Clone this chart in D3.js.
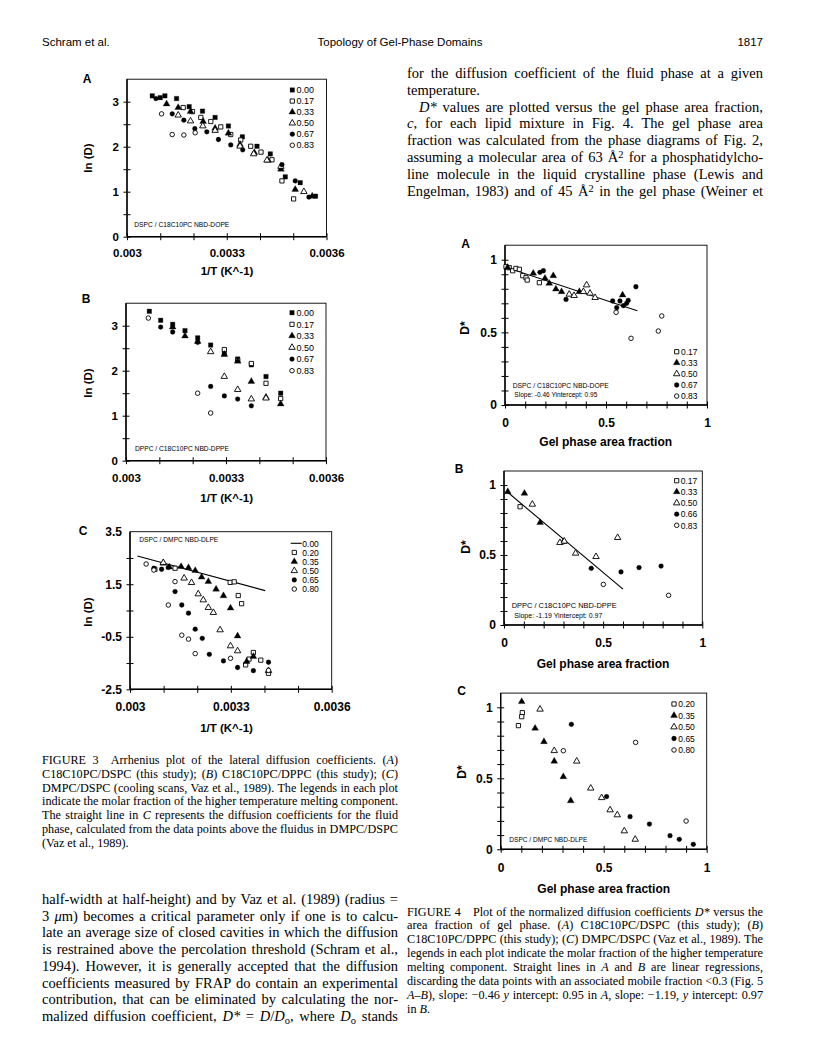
<!DOCTYPE html>
<meta charset="utf-8">
<html>
<head>
<script src="https://cdnjs.cloudflare.com/ajax/libs/d3/7.8.5/d3.min.js"></script>
<style>
  body { margin: 0; background: #fff; }
  svg { display: block; }
</style>
</head>
<body>
<div id="page"></div>
<script>

// ---------- data ----------

// Fig 3: ln(D) versus 1/T
var f3xLabels = ["0.003", "0.0033", "0.0036"];
var f3abYLabels = ["0", "1", "2", "3"];
var f3cYLabels = ["-2.5", "-0.5", "1.5", "3.5"];

var f3aKeys = ["0.00", "0.17", "0.33", "0.50", "0.67", "0.83"];
var f3a_000 = [[0.003076,3.13],[0.003100,3.09],[0.003114,3.13],[0.003149,3.07],[0.003187,2.89],[0.003227,2.79],[0.003265,2.65],[0.003305,2.46],[0.003347,2.22],[0.003391,2.01],[0.003431,1.84],[0.003476,1.33],[0.003521,1.20],[0.003567,0.90]];
var f3a_017 = [[0.003169,2.87],[0.003197,2.78],[0.003222,2.65],[0.003252,2.56],[0.003282,2.44],[0.003312,2.27],[0.003342,2.15],[0.003372,2.01],[0.003403,1.88],[0.003436,1.71],[0.003466,1.24],[0.003501,0.84]];
var f3a_033 = [[0.003119,2.95],[0.003154,2.87],[0.003191,2.78],[0.003229,2.56],[0.003265,2.41],[0.003305,2.30],[0.003340,2.05],[0.003383,1.87],[0.003424,1.70],[0.003463,1.50],[0.003506,1.05],[0.003557,0.90]];
var f3a_050 = [[0.003154,2.70],[0.003191,2.57],[0.003228,2.46],[0.003265,2.36],[0.003340,2.01],[0.003381,1.84],[0.003421,1.70],[0.003463,1.56],[0.003532,1.00]];
var f3a_067 = [[0.003087,3.07],[0.003136,2.73],[0.003171,2.59],[0.003204,2.40],[0.003240,2.33],[0.003275,2.16],[0.003312,2.04],[0.003348,1.93],[0.003466,1.60],[0.003506,1.24],[0.003547,0.88]];
var f3a_083 = [[0.003104,2.73],[0.003136,2.27],[0.003171,2.26],[0.003205,2.31]];

var f3bKeys = ["0.00", "0.17", "0.33", "0.50", "0.67", "0.83"];
var f3b_000 = [[0.003070,3.32],[0.003104,3.12],[0.003140,3.03],[0.003177,2.89],[0.003215,2.73],[0.003254,2.57],[0.003295,2.38],[0.003335,2.26],[0.003376,2.13],[0.003420,1.87],[0.003464,1.50]];
var f3b_017 = [[0.003295,2.47],[0.003335,2.23],[0.003376,2.16],[0.003420,1.72],[0.003464,1.38]];
var f3b_033 = [[0.003140,2.97],[0.003177,2.77],[0.003215,2.65],[0.003295,2.36],[0.003335,2.21],[0.003376,1.76],[0.003420,1.41],[0.003464,1.26]];
var f3b_050 = [[0.003254,2.42],[0.003295,1.87],[0.003335,1.58],[0.003376,1.37],[0.003420,1.39]];
var f3b_067 = [[0.003104,2.97],[0.003140,2.86],[0.003215,2.63],[0.003254,1.65],[0.003295,1.44],[0.003335,1.37],[0.003376,1.22]];
var f3b_083 = [[0.003067,3.17],[0.003215,1.50],[0.003254,1.06]];

var f3cKeys = ["0.00", "0.20", "0.35", "0.50", "0.65", "0.80"];
var f3cFluid = [[0.003022,2.575],[0.003402,1.257]];
var f3c_020 = [[0.003074,2.07],[0.003134,2.11],[0.003298,1.57],[0.003310,1.59],[0.003322,1.07],[0.003332,0.76],[0.003344,-1.57],[0.003354,-1.35],[0.003367,-1.10],[0.003389,-1.39],[0.003412,-1.89]];
var f3c_035 = [[0.003099,2.30],[0.003117,2.15],[0.003152,2.17],[0.003174,2.13],[0.003194,2.02],[0.003213,1.77],[0.003233,1.60],[0.003256,1.31],[0.003278,1.06],[0.003299,0.59],[0.003320,-0.47],[0.003347,-1.44],[0.003367,-1.25]];
var f3c_050 = [[0.003099,2.32],[0.003161,1.73],[0.003183,1.56],[0.003203,1.13],[0.003218,0.90],[0.003233,0.61],[0.003248,0.42],[0.003268,-0.24],[0.003299,-0.85],[0.003320,-1.04],[0.003412,-1.79]];
var f3c_065 = [[0.003071,2.11],[0.003094,2.07],[0.003114,2.14],[0.003134,1.22],[0.003154,0.71],[0.003174,0.40],[0.003194,-0.21],[0.003215,-0.56],[0.003236,-1.17],[0.003278,-1.42],[0.003320,-1.67],[0.003367,-1.79],[0.003412,-1.47]];
var f3c_080 = [[0.003048,2.27],[0.003071,2.04],[0.003134,1.60],[0.003114,0.71],[0.003154,-0.44],[0.003174,-0.59],[0.003194,-1.14],[0.003299,-1.32],[0.003412,-1.78]];

// Fig 4: D* versus gel phase area fraction
var f4xLabels = ["0", "0.5", "1"];
var f4yLabels = ["0", "0.5", "1"];

var f4aKeys = ["0.17", "0.33", "0.50", "0.67", "0.83"];
var f4a_017 = [[0.005,0.952],[0.021,0.945],[0.038,0.924],[0.054,0.940],[0.071,0.934],[0.088,0.890],[0.104,0.876],[0.110,0.860],[0.170,0.842]];
var f4a_033 = [[0.013,0.947],[0.140,0.906],[0.198,0.872],[0.219,0.837],[0.239,0.890],[0.252,0.798],[0.280,0.780],[0.368,0.780],[0.582,0.757]];
var f4a_050 = [[0.318,0.762],[0.342,0.753],[0.388,0.780],[0.404,0.826],[0.421,0.769],[0.446,0.739]];
var f4a_067 = [[0.173,0.913],[0.190,0.924],[0.302,0.727],[0.533,0.716],[0.553,0.670],[0.569,0.716],[0.586,0.684],[0.602,0.700],[0.610,0.720],[0.648,0.814]];
var f4a_083 = [[0.550,0.638],[0.624,0.459],[0.759,0.509],[0.776,0.613]];
var f4aFit = { slope: -0.46, intercept: 0.95, from: 0.0, to: 0.655 };

var f4bKeys = ["0.17", "0.33", "0.50", "0.66", "0.83"];
var f4b_017 = [[0.081,0.845]];
var f4b_033 = [[0.019,0.952],[0.103,0.940],[0.182,0.731],[0.299,0.595]];
var f4b_050 = [[0.143,0.862],[0.282,0.588],[0.304,0.598],[0.361,0.512],[0.464,0.488],[0.573,0.624]];
var f4b_066 = [[0.440,0.405],[0.590,0.379],[0.681,0.410],[0.792,0.421]];
var f4b_083 = [[0.501,0.290],[0.830,0.212]];
var f4bFit = { slope: -1.19, intercept: 0.97, from: 0.01, to: 0.60 };

var f4cKeys = ["0.20", "0.35", "0.50", "0.65", "0.80"];
var f4c_020 = [[0.086,0.871],[0.105,0.962],[0.102,0.934]];
var f4c_035 = [[0.102,1.040],[0.167,0.852],[0.210,0.758],[0.260,0.620],[0.304,0.511],[0.340,0.342]];
var f4c_050 = [[0.191,0.986],[0.260,0.694],[0.369,0.620],[0.437,0.430],[0.490,0.363],[0.531,0.277],[0.566,0.242],[0.600,0.129],[0.653,0.070]];
var f4c_065 = [[0.343,0.880],[0.514,0.371],[0.628,0.230],[0.722,0.178],[0.822,0.096],[0.867,0.070],[0.935,0.035]];
var f4c_080 = [[0.304,0.694],[0.655,0.753],[0.900,0.199]];

// ---------- page text ----------
var rightPara = [
  "for the diffusion coefficient of the fluid phase at a given",
  "temperature.",
  "\t<i>D*</i> values are plotted versus the gel phase area fraction,",
  "<i>c</i>, for each lipid mixture in Fig. 4. The gel phase area",
  "fraction was calculated from the phase diagrams of Fig. 2,",
  "assuming a molecular area of 63 Å<sup>2</sup> for a phosphatidylcho-",
  "line molecule in the liquid crystalline phase (Lewis and",
  "Engelman, 1983) and of 45 Å<sup>2</sup> in the gel phase (Weiner et"
];
var fig3Caption = [
  "FIGURE 3\u2002\u2002Arrhenius plot of the lateral diffusion coefficients. (<i>A</i>)",
  "C18C10PC/DSPC (this study); (<i>B</i>) C18C10PC/DPPC (this study); (<i>C</i>)",
  "DMPC/DSPC (cooling scans, Vaz et al., 1989). The legends in each plot",
  "indicate the molar fraction of the higher temperature melting component.",
  "The straight line in <i>C</i> represents the diffusion coefficients for the fluid",
  "phase, calculated from the data points above the fluidus in DMPC/DSPC",
  "(Vaz et al., 1989)."
];
var leftPara = [
  "half-width at half-height) and by Vaz et al. (1989) (radius =",
  "3 <i>μ</i>m) becomes a critical parameter only if one is to calcu-",
  "late an average size of closed cavities in which the diffusion",
  "is restrained above the percolation threshold (Schram et al.,",
  "1994). However, it is generally accepted that the diffusion",
  "coefficients measured by FRAP do contain an experimental",
  "contribution, that can be eliminated by calculating the nor-",
  "malized diffusion coefficient, <i>D*</i> = <i>D</i>/<i>D</i><sub>o</sub>, where <i>D</i><sub>o</sub> stands"
];
var fig4Caption = [
  "FIGURE 4\u2002\u2002Plot of the normalized diffusion coefficients <i>D*</i> versus the",
  "area fraction of gel phase. (<i>A</i>) C18C10PC/DSPC (this study); (<i>B</i>)",
  "C18C10PC/DPPC (this study); (<i>C</i>) DMPC/DSPC (Vaz et al., 1989). The",
  "legends in each plot indicate the molar fraction of the higher temperature",
  "melting component. Straight lines in <i>A</i> and <i>B</i> are linear regressions,",
  "discarding the data points with an associated mobile fraction <0.3 (Fig. 5",
  "<i>A–B</i>), slope: −0.46 <i>y</i> intercept: 0.95 in <i>A</i>, slope: −1.19, <i>y</i> intercept: 0.97",
  "in <i>B</i>."
];

// ---------- drawing ----------
var SANS = "Liberation Sans, Arial, Helvetica, sans-serif";
var SERIF = "Liberation Serif, Times New Roman, serif";

var svg = d3.select("#page").append("svg")
  .attr("width", 816).attr("height", 1061)
  .style("background", "#fff");

var markers = {
  fsq: { type: d3.symbolSquare, size: 20, fill: "#000" },
  osq: { type: d3.symbolSquare, size: 18, fill: "#fff" },
  ftr: { type: d3.symbolTriangle, size: 20, fill: "#000" },
  otr: { type: d3.symbolTriangle, size: 18, fill: "#fff" },
  fci: { type: d3.symbolCircle, size: 18, fill: "#000" },
  oci: { type: d3.symbolCircle, size: 16, fill: "#fff" }
};

function marker(sel, m) {
  var mk = markers[m];
  sel.attr("d", d3.symbol().type(mk.type).size(mk.size))
    .attr("fill", mk.fill)
    .attr("stroke", "#000")
    .attr("stroke-width", mk.fill === "#fff" ? 0.9 : 0.3);
}

function styleAxis(s, size, bold) {
  s.select(".domain").remove();
  s.attr("font-family", SANS).attr("font-size", size)
    .attr("font-weight", bold ? "bold" : "normal");
  s.selectAll("line").attr("stroke-width", 1);
}

function drawPanel(p) {
  var x = d3.scaleLinear().domain(p.xDomain).range(p.xRange);
  var y = d3.scaleLinear().domain(p.yDomain).range(p.yRange);
  var x0 = p.xRange[0], x1 = p.xRange[1], y0 = p.yRange[0], y1 = p.yRange[1];
  var g = svg.append("g");

  g.append("rect")
    .attr("x", x0).attr("y", y1)
    .attr("width", x1 - x0).attr("height", y0 - y1)
    .attr("fill", "none").attr("stroke", "#000").attr("stroke-width", 0.9);
  g.append("line").attr("x1", x0).attr("x2", x1).attr("y1", y0).attr("y2", y0)
    .attr("stroke", "#000").attr("stroke-width", 1.4);
  g.append("line").attr("x1", x0).attr("x2", x0).attr("y1", y0).attr("y2", y1)
    .attr("stroke", "#000").attr("stroke-width", 1.4);

  // ticks cross the axes
  [d3.axisBottom, d3.axisTop].forEach(function(ax) {
    g.append("g").attr("transform", "translate(0," + y0 + ")")
      .call(ax(x).tickValues(p.xTicks).tickSize(3.5).tickSizeOuter(0).tickFormat(""))
      .call(styleAxis, 10, false);
  });
  [d3.axisLeft, d3.axisRight].forEach(function(ax) {
    g.append("g").attr("transform", "translate(" + x0 + ",0)")
      .call(ax(y).tickValues(p.yTicks).tickSize(3.5).tickSizeOuter(0).tickFormat(""))
      .call(styleAxis, 10, false);
  });

  // tick labels
  g.append("g").attr("transform", "translate(0," + y0 + ")")
    .call(d3.axisBottom(x).tickValues(p.xLabels.map(Number)).tickSize(0)
      .tickPadding(p.xPad).tickFormat(function(d, i) { return p.xLabels[i]; }))
    .call(styleAxis, p.tickFont, true);
  g.append("g").attr("transform", "translate(" + x0 + ",0)")
    .call(d3.axisLeft(y).tickValues(p.yLabels.map(Number)).tickSize(0)
      .tickPadding(8).tickFormat(function(d, i) { return p.yLabels[i]; }))
    .call(styleAxis, p.tickFont, true);

  // lines (fluid line, regressions)
  var line = d3.line().x(function(d) { return x(d[0]); }).y(function(d) { return y(d[1]); });
  (p.lines || []).forEach(function(l) {
    g.append("path").datum(l).attr("d", line)
      .attr("fill", "none").attr("stroke", "#000").attr("stroke-width", 1.1);
  });

  // points
  p.series.forEach(function(s) {
    if (!s.data) return;
    g.selectAll(null).data(s.data).enter().append("path")
      .attr("transform", function(d) { return "translate(" + x(d[0]) + "," + y(d[1]) + ")"; })
      .call(marker, s.m);
  });

  // legend
  var L = p.legend;
  p.series.forEach(function(s, i) {
    var ly = L.y0 + i * L.dy;
    if (s.m === "line") {
      g.append("line").attr("x1", L.lx0).attr("x2", L.lx1).attr("y1", ly).attr("y2", ly)
        .attr("stroke", "#000").attr("stroke-width", 1.1);
    } else {
      g.append("path").attr("transform", "translate(" + L.sx + "," + ly + ")").call(marker, s.m);
    }
    g.append("text").attr("x", L.tx).attr("y", ly + 3.2)
      .attr("font-family", SANS).attr("font-size", L.font).text(s.key);
  });

  // in-plot notes
  p.notes.forEach(function(n) {
    g.append("text").attr("x", n.x).attr("y", n.y)
      .attr("font-family", SANS).attr("font-size", 7)
      .attr("textLength", n.w).attr("lengthAdjust", "spacingAndGlyphs")
      .text(n.t);
  });

  // titles
  g.append("text").attr("x", p.letter[1]).attr("y", p.letter[2])
    .attr("text-anchor", "middle").attr("font-family", SANS)
    .attr("font-size", 12).attr("font-weight", "bold").text(p.letter[0]);
  g.append("text").attr("x", p.xTitle[1]).attr("y", p.xTitle[2])
    .attr("text-anchor", "middle").attr("font-family", SANS)
    .attr("font-size", p.titleFont).attr("font-weight", "bold").text(p.xTitle[0]);
  g.append("text")
    .attr("transform", "translate(" + p.yTitle[1] + "," + p.yTitle[2] + ") rotate(-90)")
    .attr("text-anchor", "middle").attr("dy", "0.35em").attr("font-family", SANS)
    .attr("font-size", p.titleFont).attr("font-weight", "bold").text(p.yTitle[0]);
}

function fitLine(f) {
  return [[f.from, f.intercept + f.slope * f.from], [f.to, f.intercept + f.slope * f.to]];
}

var t3x = d3.range(7).map(function(i) { return 0.003 + i * 0.0001; });
var t3y = d3.range(7).map(function(i) { return i * 0.5; });
var t3cy = d3.range(6).map(function(i) { return -2.5 + i; });
var t4 = d3.range(11).map(function(i) { return i / 10; });

var mk6 = ["fsq", "osq", "ftr", "otr", "fci", "oci"];
var mk5 = ["osq", "ftr", "otr", "fci", "oci"];

drawPanel({
  xDomain: [0.003, 0.0036], xRange: [127, 326.5],
  yDomain: [0, 3.5], yRange: [236.7, 79.2],
  xTicks: t3x, yTicks: t3y, xLabels: f3xLabels, yLabels: f3abYLabels,
  xPad: 12.6, tickFont: 11.5, titleFont: 11.5,
  series: [f3a_000, f3a_017, f3a_033, f3a_050, f3a_067, f3a_083].map(function(d, i) {
    return { key: f3aKeys[i], data: d, m: mk6[i] };
  }),
  legend: { sx: 292.3, tx: 296.5, y0: 90, dy: 11.05, font: 9 },
  notes: [{ t: "DSPC / C18C10PC NBD-DOPE", x: 134.3, y: 227.3, w: 95 }],
  letter: ["A", 87, 83], xTitle: ["1/T (K^-1)", 227, 274.5], yTitle: ["ln (D)", 88, 158]
});

drawPanel({
  xDomain: [0.003, 0.0036], xRange: [126, 326],
  yDomain: [0, 3.5], yRange: [460.7, 303.2],
  xTicks: t3x, yTicks: t3y, xLabels: f3xLabels, yLabels: f3abYLabels,
  xPad: 13, tickFont: 11.5, titleFont: 11.5,
  series: [f3b_000, f3b_017, f3b_033, f3b_050, f3b_067, f3b_083].map(function(d, i) {
    return { key: f3bKeys[i], data: d, m: mk6[i] };
  }),
  legend: { sx: 292, tx: 296.5, y0: 312.7, dy: 11.6, font: 9 },
  notes: [{ t: "DPPC / C18C10PC NBD-DPPE", x: 135, y: 450.8, w: 94 }],
  letter: ["B", 86, 303], xTitle: ["1/T (K^-1)", 226.7, 502.3], yTitle: ["ln (D)", 88.3, 383]
});

drawPanel({
  xDomain: [0.003, 0.0036], xRange: [130, 331.7],
  yDomain: [-2.5, 3.5], yRange: [689.3, 531.7],
  xTicks: t3x, yTicks: t3cy, xLabels: f3xLabels, yLabels: f3cYLabels,
  xPad: 13.4, tickFont: 12, titleFont: 11.5,
  lines: [f3cFluid],
  series: [null, f3c_020, f3c_035, f3c_050, f3c_065, f3c_080].map(function(d, i) {
    return { key: f3cKeys[i], data: d, m: i === 0 ? "line" : mk6[i] };
  }),
  legend: { sx: 294.3, tx: 302.3, lx0: 290.7, lx1: 301.7, y0: 543.3, dy: 9.15, font: 8.5 },
  notes: [{ t: "DSPC / DMPC NBD-DLPE", x: 139.3, y: 541.8, w: 79 }],
  letter: ["C", 83, 535], xTitle: ["1/T (K^-1)", 226.5, 732], yTitle: ["ln (D)", 88.3, 612]
});

drawPanel({
  xDomain: [0, 1], xRange: [505, 707],
  yDomain: [0, 1.1], yRange: [405, 245.2],
  xTicks: t4, yTicks: t4, xLabels: f4xLabels, yLabels: f4yLabels,
  xPad: 13.5, tickFont: 12, titleFont: 12,
  lines: [fitLine(f4aFit)],
  series: [f4a_017, f4a_033, f4a_050, f4a_067, f4a_083].map(function(d, i) {
    return { key: f4aKeys[i], data: d, m: mk5[i] };
  }),
  legend: { sx: 676.7, tx: 681, y0: 351.7, dy: 11.1, font: 8.5 },
  notes: [
    { t: "DSPC / C18C10PC NBD-DOPE", x: 512.7, y: 387.6, w: 96 },
    { t: "Slope: -0.46 Yintercept: 0.95", x: 514.3, y: 396.8, w: 83 }
  ],
  letter: ["A", 465.5, 248], xTitle: ["Gel phase area fraction", 605.7, 445.5], yTitle: ["D*", 465, 328]
});

drawPanel({
  xDomain: [0, 1], xRange: [504, 702.3],
  yDomain: [0, 1.1], yRange: [625, 471],
  xTicks: t4, yTicks: t4, xLabels: f4xLabels, yLabels: f4yLabels,
  xPad: 13.5, tickFont: 12, titleFont: 12,
  lines: [fitLine(f4bFit)],
  series: [f4b_017, f4b_033, f4b_050, f4b_066, f4b_083].map(function(d, i) {
    return { key: f4bKeys[i], data: d, m: mk5[i] };
  }),
  legend: { sx: 676.7, tx: 680.7, y0: 480.7, dy: 11.15, font: 8.5 },
  notes: [
    { t: "DPPC / C18C10PC  NBD-DPPE", x: 511.7, y: 607.6, w: 105 },
    { t: "Slope: -1.19   Yintercept: 0.97", x: 514.3, y: 617.8, w: 88 }
  ],
  letter: ["B", 459, 473], xTitle: ["Gel phase area fraction", 603, 668], yTitle: ["D*", 465.7, 547]
});

drawPanel({
  xDomain: [0, 1], xRange: [500.7, 706.7],
  yDomain: [0, 1.1], yRange: [849.3, 693.1],
  xTicks: t4, yTicks: t4, xLabels: f4xLabels, yLabels: f4yLabels,
  xPad: 14.5, tickFont: 12, titleFont: 12,
  series: [f4c_020, f4c_035, f4c_050, f4c_065, f4c_080].map(function(d, i) {
    return { key: f4cKeys[i], data: d, m: mk5[i] };
  }),
  legend: { sx: 674, tx: 678.3, y0: 704, dy: 11.5, font: 8.5 },
  notes: [{ t: "DSPC / DMPC NBD-DLPE", x: 509.3, y: 841.8, w: 78 }],
  letter: ["C", 461.5, 695], xTitle: ["Gel phase area fraction", 603.7, 892.6], yTitle: ["D*", 461.7, 772]
});

// ---------- running text ----------
function rich(t, str) {
  var parts = str.split(/(<i>.*?<\/i>|<sub>.*?<\/sub>|<sup>.*?<\/sup>)/);
  var off = 0, m;
  parts.forEach(function(s) {
    if (!s) return;
    var ts = t.append("tspan");
    if ((m = s.match(/^<sub>(.*)<\/sub>$/))) {
      ts.attr("font-size", "0.72em").attr("dy", 3 - off).text(m[1]); off = 3;
    } else if ((m = s.match(/^<sup>(.*)<\/sup>$/))) {
      ts.attr("font-size", "0.72em").attr("dy", -4 - off).text(m[1]); off = -4;
    } else {
      if ((m = s.match(/^<i>(.*)<\/i>$/))) { ts.attr("font-style", "italic"); s = m[1]; }
      ts.text(s);
      if (off) { ts.attr("dy", -off); off = 0; }
    }
  });
}

function textBlock(lines, x, y0, lh, width, size) {
  lines.forEach(function(str, i) {
    var indent = 0;
    if (str[0] === "\t") { indent = 12; str = str.slice(1); }
    var t = svg.append("text").attr("x", x + indent).attr("y", y0 + i * lh)
      .attr("font-family", SERIF).attr("font-size", size);
    rich(t, str);
    var avail = width - indent;
    var len = t.node().getComputedTextLength();
    var n = (t.node().textContent.match(/ /g) || []).length;
    if (n && len > avail * 0.78) t.attr("word-spacing", (avail - len) / n);
  });
}

// running head
svg.append("text").attr("x", 42).attr("y", 46).attr("font-family", SANS)
  .attr("font-size", 11.5).text("Schram et al.");
svg.append("text").attr("x", 400).attr("y", 46).attr("text-anchor", "middle")
  .attr("font-family", SANS).attr("font-size", 11.5).text("Topology of Gel-Phase Domains");
svg.append("text").attr("x", 763).attr("y", 46).attr("text-anchor", "end")
  .attr("font-family", SANS).attr("font-size", 11.5).text("1817");

textBlock(rightPara, 407, 78, 16.8, 356, 14.5);
textBlock(fig3Caption, 42, 764, 13.8, 356, 12.2);
textBlock(leftPara, 42, 904, 16.7, 356, 14.5);
textBlock(fig4Caption, 407, 915.5, 13.9, 356, 12.2);

</script>
</body>
</html>
